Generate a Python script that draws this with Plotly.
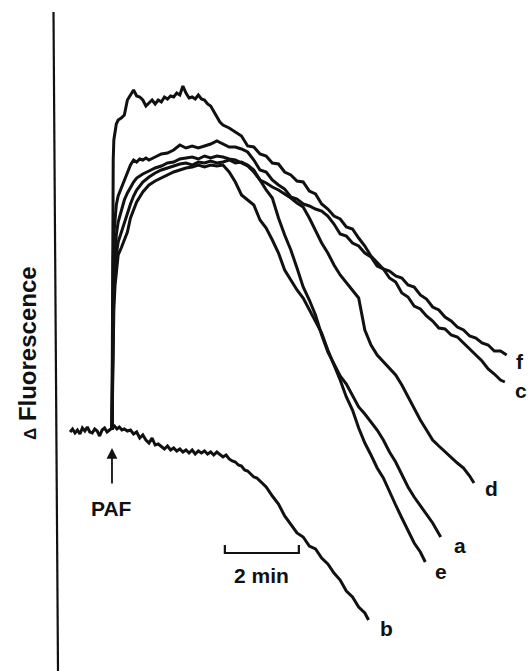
import plotly.graph_objects as go

# Fluorescence traces after PAF addition (time in s, PAF added at t = 0;
# fluorescence change in arbitrary recorder units, pre-stimulus baseline = 0)

t_f = [0, 0.5, 1, 2, 3, 5, 7, 10, 15, 20, 25, 30, 35, 40, 45, 50, 55, 60, 65, 70, 75, 80,
       85, 90, 95, 100, 105, 110, 115, 120, 125, 130, 135, 140, 145, 150, 155, 160, 165,
       170, 175, 180] + list(range(190, 641, 10))
f_f = [0, 130, 230, 270, 290, 300, 306, 310, 312, 315, 330, 335, 340, 334, 333, 330, 324,
       327, 330, 326, 330, 328, 333, 331, 334, 333, 337, 335, 344, 337, 332, 333, 331, 335,
       331, 330, 326, 324, 319, 314, 308, 305,
       302, 298, 294, 284, 283, 276, 274, 267, 266, 258, 255, 249, 248, 239, 236, 226, 221,
       214, 211, 203, 201, 192, 184, 174, 168, 161, 159, 154, 152, 145, 143, 135, 131, 123,
       120, 113, 109, 103, 100, 94, 92, 87, 85, 79, 79, 75]

t_c = [0, 0.5, 1, 2, 3, 5, 7, 10, 15, 20, 25, 30, 35, 40, 45, 50, 55, 60] + \
      list(range(70, 631, 10)) + [637]
f_c = [0, 70, 130, 170, 195, 215, 225, 234, 242, 250, 258, 265, 270, 268, 271, 270, 272, 270,
       273, 276, 277, 280, 285, 282, 284, 282, 284, 286, 289, 286, 283, 283, 281, 278, 270,
       260, 258, 250, 245, 241, 233, 231, 226, 224, 221, 219, 214, 206, 196, 194, 187, 184,
       177, 173, 164, 161, 152, 148, 137, 133, 124, 121, 114, 109, 102, 101, 95, 93, 87, 81,
       74, 69, 61, 56, 50, 48]

t_d = [0, 0.5, 1, 2, 3, 5, 7, 10, 15, 20, 25, 30, 35, 40] + list(range(50, 581, 10)) + [587]
f_d = [0, 50, 90, 130, 155, 180, 195, 208, 220, 230, 237, 243, 248, 252,
       256, 259, 262, 264, 267, 268, 271, 272, 273, 271, 274, 272, 274, 273, 271, 270, 267,
       264, 258, 250, 247, 243, 240, 236, 232, 227, 223, 212, 200, 187, 177, 165, 155, 147,
       140, 132, 100, 85, 75, 68, 62, 55, 45, 33, 22, 10, 0, -10, -16, -22, -28, -33, -38,
       -46, -53]

t_a = [0, 0.5, 1, 2, 3, 5, 7, 10, 15, 20, 25, 30, 35, 40] + list(range(50, 521, 10)) + [533]
f_a = [0, 40, 75, 115, 140, 162, 175, 188, 198, 208, 218, 226, 234, 240,
       248, 253, 257, 260, 262, 264, 266, 267, 265, 268, 267, 269, 267, 268, 270, 267, 268,
       265, 260, 250, 240, 232, 212, 195, 180, 162, 143, 130, 115, 95, 78, 66, 54, 46, 34,
       23, 16, 8, 0, -10, -22, -32, -45, -57, -67, -76, -85, -93, -107]

t_e = [0, 0.5, 1, 2, 3, 5, 7, 10, 15, 20, 25, 30, 35, 40] + list(range(50, 501, 10)) + [508]
f_e = [0, 30, 60, 95, 120, 145, 160, 175, 182, 190, 198, 212, 220, 228,
       238, 245, 249, 252, 255, 258, 260, 262, 263, 265, 263, 265, 264, 265, 258, 248, 235,
       230, 225, 210, 202, 190, 177, 160, 150, 140, 132, 120, 108, 97, 80, 65, 50, 33, 20,
       2, -13, -25, -38, -48, -62, -75, -88, -100, -113, -122, -132]

t_b = list(range(-68, 1, 4)) + [4, 8, 12, 16, 20] + list(range(25, 251, 5)) + \
      list(range(260, 411, 10)) + [416]
f_b = [-2, 1, -3, 0, -4, 2, -1, 3, -2, -3, 1, -1, -6, 0, 2, -2, 0, 2,
       4, 1, 3, 0, 1,
       -1, 0, -4, -2, -8, -5, -10, -13, -8, -15, -14, -17, -19, -16, -20, -18, -21, -19, -22,
       -20, -23, -20, -24, -21, -23, -21, -24, -22, -25, -22, -25, -27, -25, -29, -31, -32,
       -35, -36, -40, -41, -44, -47, -48, -51, -54, -57,
       -66, -74, -86, -94, -103, -107, -116, -119, -128, -134, -143, -150, -161, -167, -177,
       -183, -190]

traces = [
    ("f", t_f, f_f, 13, -6),
    ("c", t_c, f_c, 16, -8),
    ("d", t_d, f_d, 18, -5),
    ("a", t_a, f_a, 19, -8),
    ("e", t_e, f_e, 16, -9),
    ("b", t_b, f_b, 18, -8),
]

SCALE_START = 183      # s
SCALE_LEN = 120        # s  (2 min)
SCALE_Y = -123
SCALE_TICK = 8
PAF_TIME = 0

INK = "#111111"
FONT = "Liberation Sans, Arial, sans-serif"
BOLD = dict(family=FONT, color=INK, size=21, weight="bold")

fig = go.Figure()
annotations = []
for name, t, y, dx, dy in traces:
    fig.add_trace(go.Scatter(x=t, y=y, mode="lines", name=name,
                             line=dict(color=INK, width=3), hoverinfo="skip"))
    annotations.append(dict(x=t[-1], y=y[-1], text=name, showarrow=False,
                            xshift=dx, yshift=dy, font=BOLD))

# time scale bar
fig.add_trace(go.Scatter(
    x=[SCALE_START, SCALE_START, SCALE_START + SCALE_LEN, SCALE_START + SCALE_LEN],
    y=[SCALE_Y + SCALE_TICK, SCALE_Y, SCALE_Y, SCALE_Y + SCALE_TICK],
    mode="lines", line=dict(color=INK, width=2.2), hoverinfo="skip"))
annotations.append(dict(x=SCALE_START + SCALE_LEN / 2, y=SCALE_Y - 22, text="2 min",
                        showarrow=False, font=BOLD))

# PAF addition marker
annotations.append(dict(x=PAF_TIME, y=-18, text="", showarrow=True, ax=0, ay=37,
                        arrowhead=2, arrowsize=1.2, arrowwidth=1.8, arrowcolor=INK))
annotations.append(dict(x=PAF_TIME, y=-78, text="PAF", showarrow=False, font=BOLD))

# axis title
annotations.append(dict(xref="paper", yref="paper", x=27 / 529, y=(671 - 353) / 671,
                        text='<span style="font-size:17px">Δ</span>&nbsp;Fluorescence',
                        textangle=-90, showarrow=False, xanchor="center", yanchor="middle",
                        font=dict(family=FONT, color=INK, size=24, weight="bold")))

fig.update_layout(
    width=529, height=671,
    margin=dict(l=0, r=0, t=0, b=0),
    paper_bgcolor="white", plot_bgcolor="white",
    showlegend=False,
    font=dict(family=FONT, color=INK),
    xaxis=dict(visible=False, range=[-181.6, 676.2], fixedrange=True),
    yaxis=dict(visible=False, range=[-241, 430], fixedrange=True),
    annotations=annotations,
    shapes=[dict(type="line", xref="paper", yref="paper",
                 x0=53.5 / 529, y0=(671 - 12) / 671, x1=58 / 529, y1=0,
                 line=dict(color=INK, width=2.2))],
)

fig.write_html("out.html")
